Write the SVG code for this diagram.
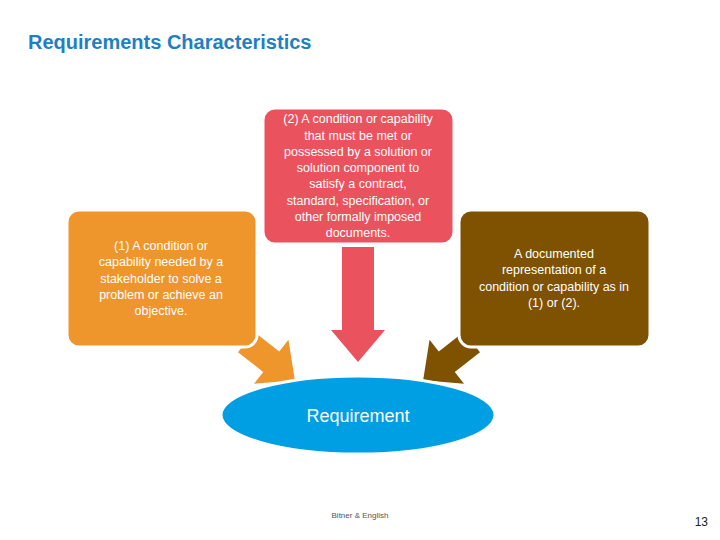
<svg xmlns="http://www.w3.org/2000/svg" width="720" height="540" viewBox="0 0 720 540">
<style>
.b{stroke:#fff;stroke-width:3}
.t{font-family:"Liberation Sans",Arial,sans-serif;font-size:12.5px;fill:#fff;text-anchor:middle}
</style>
<rect width="720" height="540" fill="#fff"/>
<text x="28" y="49" font-family="Liberation Sans,Arial,sans-serif" font-size="20" font-weight="bold" fill="#1f7fc4">Requirements Characteristics</text>
<g id="connectors">
<polygon points="0,-13 32,-13 32,-28 62,0 32,28 32,13 0,13" fill="#ee962b" transform="translate(246,342) rotate(38)"/>
<polygon points="0,-13 32,-13 32,-28 62,0 32,28 32,13 0,13" fill="#7e5200" transform="translate(472,342) rotate(142)"/>
<polygon points="342,247 374,247 374,330 385,330 358,362 331,330 342,330" fill="#ea535e"/>
</g>
<g id="n1"><rect class="b" x="67" y="210" width="190" height="137" rx="12" fill="#ee962b"/>
<text class="t"><tspan x="161" y="250">(1) A condition or</tspan><tspan x="161" y="266">capability needed by a</tspan><tspan x="161" y="283">stakeholder to solve a</tspan><tspan x="161" y="299">problem or achieve an</tspan><tspan x="161" y="315">objective.</tspan></text></g>
<g id="n2"><rect class="b" x="263" y="108" width="191" height="136" rx="12" fill="#ea535e"/>
<text class="t"><tspan x="358" y="123">(2) A condition or capability</tspan><tspan x="358" y="140">that must be met or</tspan><tspan x="358" y="156">possessed by a solution or</tspan><tspan x="358" y="172">solution component to</tspan><tspan x="358" y="188">satisfy a contract,</tspan><tspan x="358" y="205">standard, specification, or</tspan><tspan x="358" y="221">other formally imposed</tspan><tspan x="358" y="237">documents.</tspan></text></g>
<g id="n3"><rect class="b" x="459" y="210" width="191" height="137" rx="12" fill="#7e5200"/>
<text class="t"><tspan x="554" y="258">A documented</tspan><tspan x="554" y="274">representation of a</tspan><tspan x="554" y="291">condition or capability as in</tspan><tspan x="554" y="307">(1) or (2).</tspan></text></g>
<g id="req"><ellipse class="b" cx="358" cy="415" rx="137" ry="39" fill="#009fe3"/>
<text x="358" y="422" font-family="Liberation Sans,Arial,sans-serif" font-size="18" fill="#fff" text-anchor="middle">Requirement</text></g>
<text x="360" y="518" font-family="Liberation Sans,Arial,sans-serif" font-size="8" fill="#555" text-anchor="middle">Bitner &amp; English</text>
<text x="708" y="526" font-family="Liberation Sans,Arial,sans-serif" font-size="12" fill="#222" text-anchor="end">13</text>
</svg>
